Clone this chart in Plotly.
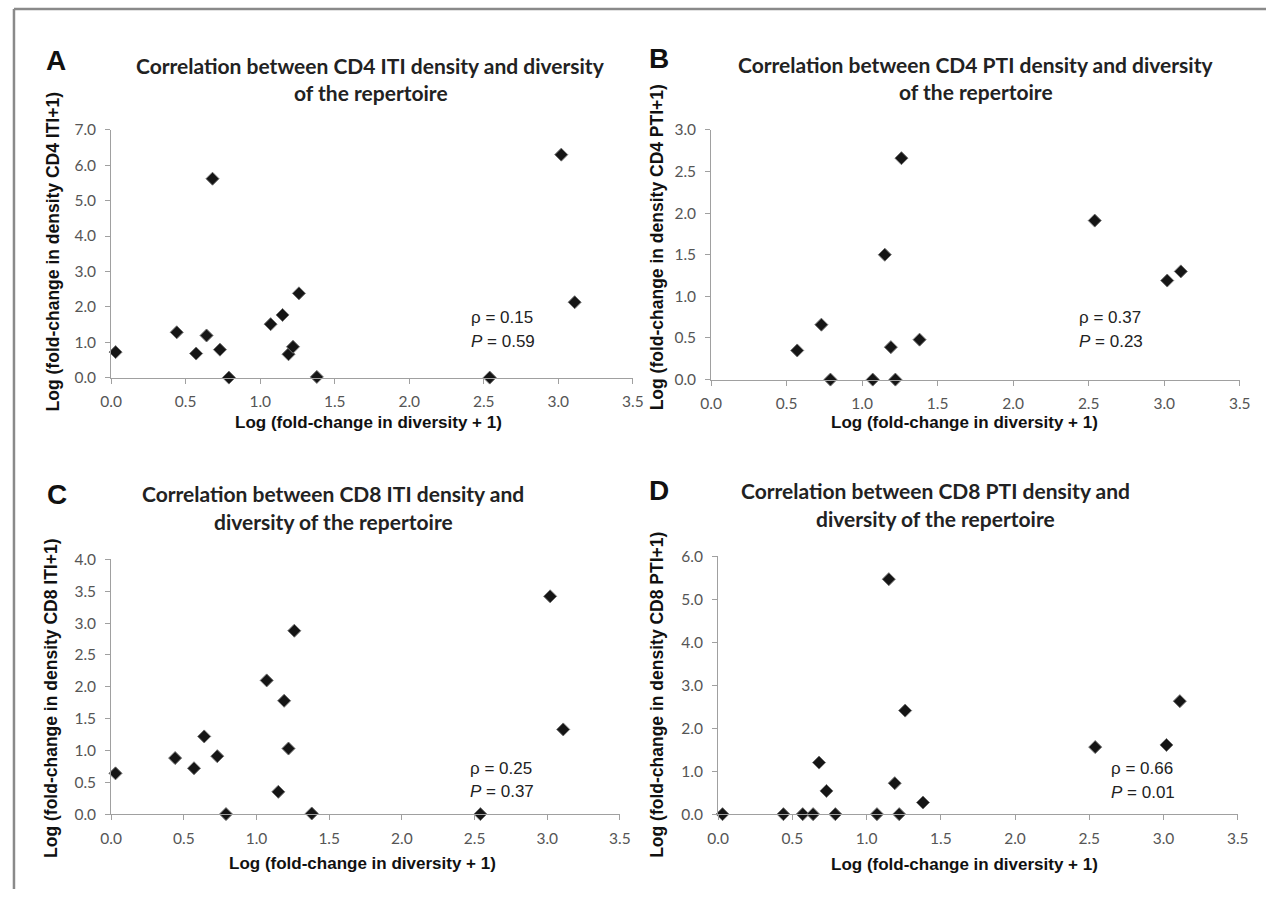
import plotly.graph_objects as go

W, H = 1277, 897

# shared x values: Log (fold-change in diversity + 1)
diversity = [0.03, 0.44, 0.57, 0.64, 0.68, 0.73, 0.79, 1.07, 1.15, 1.19, 1.22, 1.26, 1.38, 2.54, 3.02, 3.11]

# y values per panel (None = no point)
cd4_iti = [0.72, 1.28, 0.68, 1.19, 5.62, 0.79, 0.0, 1.51, 1.77, 0.66, 0.87, 2.38, 0.02, 0.0, 6.30, 2.13]
cd4_pti = [None, None, 0.35, None, None, 0.66, 0.0, 0.0, 1.50, 0.39, 0.0, 2.66, 0.48, 1.91, 1.19, 1.30]
cd8_iti = [0.64, 0.88, 0.72, 1.22, None, 0.91, 0.0, 2.10, 0.35, 1.78, 1.03, 2.88, 0.01, 0.0, 3.42, 1.33]
cd8_pti = [0.0, 0.0, 0.0, 0.0, 1.20, 0.54, 0.0, 0.0, 5.47, 0.72, 0.0, 2.41, 0.27, 1.56, 1.61, 2.63]

letters = ["A", "B", "C", "D"]
titles = [
    ["Correlation between CD4 ITI density and diversity", "of the repertoire"],
    ["Correlation between CD4 PTI density and diversity", "of the repertoire"],
    ["Correlation between CD8 ITI density and", "diversity of the repertoire"],
    ["Correlation between CD8 PTI density and", "diversity of the repertoire"],
]
y_titles = [
    "Log (fold-change in density CD4 ITI+1)",
    "Log (fold-change in density CD4 PTI+1)",
    "Log (fold-change in density CD8 ITI+1)",
    "Log (fold-change in density CD8 PTI+1)",
]
x_title = "Log (fold-change in diversity + 1)"
rhos = ["0.15", "0.37", "0.25", "0.66"]
pvals = ["0.59", "0.23", "0.37", "0.01"]
y_ranges = [[0, 7], [0, 3], [0, 4], [0, 6]]
y_dticks = [1.0, 0.5, 0.5, 1.0]
series = [cd4_iti, cd4_pti, cd8_iti, cd8_pti]

# layout geometry, measured on the reference picture (pixels)
boxes = [(104, 630, 128, 376), (709, 1242, 128, 378), (104, 617, 558, 813), (716, 1240, 555, 813)]
title_pos = [(366, 64, 91), (976, 63, 90), (328, 492, 520), (935, 489, 517)]
letter_pos = [(48, 59), (656, 57), (49, 493), (656, 489)]
ytitle_pos = [(45, 250), (654, 246), (44, 697), (655, 694)]
xtitle_pos = [(363, 421), (964, 421), (357, 862), (964, 863)]
stat_pos = [(465, 316, 340), (1078, 316, 340), (464, 767, 790), (1110, 767, 791)]
frame_xy = (6, 7)


# convert measured picture pixels to page pixels, then to paper fractions
def px(x):
    return ((x - 3) / 0.991) / W


def py(y):
    return 1 - ((y - 8) / 0.981) / H


fig = go.Figure()
annotations = []
shapes = []
for i in range(4):
    l, r, t, b = boxes[i]
    xa = "xaxis" if i == 0 else f"xaxis{i+1}"
    ya = "yaxis" if i == 0 else f"yaxis{i+1}"
    xref = "x" if i == 0 else f"x{i+1}"
    yref = "y" if i == 0 else f"y{i+1}"
    fig.add_trace(go.Scatter(
        x=diversity, y=series[i], mode="markers", xaxis=xref, yaxis=yref,
        marker=dict(symbol="diamond", size=10, color="#151515",
                    line=dict(color="#707070", width=1)),
        cliponaxis=False, showlegend=False, hoverinfo="x+y",
    ))
    axis_common = dict(showgrid=False, zeroline=False, showline=True,
                       linecolor="#a0a0a0", linewidth=1, ticks="outside",
                       ticklen=5, tickcolor="#a0a0a0", tickwidth=1,
                       tickfont=dict(family="Lato", size=15.5, color="#555555"),
                       tickformat=".1f")
    fig.layout[xa] = dict(domain=[px(l), px(r)], range=[0, 3.5], dtick=0.5, tick0=0,
                          anchor=yref, ticklabelstandoff=5, **axis_common)
    fig.layout[ya] = dict(domain=[py(b), py(t)], range=y_ranges[i], dtick=y_dticks[i], tick0=0,
                          anchor=xref, ticklabelstandoff=6, **axis_common)

    cx, y1, y2 = title_pos[i]
    for txt, yy in zip(titles[i], (y1, y2)):
        annotations.append(dict(text=txt, x=px(cx), y=py(yy), xref="paper", yref="paper",
                                showarrow=False, xanchor="center", yanchor="middle",
                                font=dict(family="Lato", size=21, color="#222222", weight="bold")))
    lx, ly = letter_pos[i]
    annotations.append(dict(text=letters[i], x=px(lx), y=py(ly), xref="paper", yref="paper",
                            showarrow=False, xanchor="center", yanchor="middle",
                            font=dict(family="Liberation Sans", size=28, color="#111111", weight="bold")))
    tx, ty = ytitle_pos[i]
    annotations.append(dict(text=y_titles[i], x=px(tx), y=py(ty), xref="paper", yref="paper",
                            showarrow=False, textangle=-90, xanchor="center", yanchor="middle",
                            font=dict(family="Liberation Sans", size=17.5, color="#111111", weight="bold")))
    xx, xy = xtitle_pos[i]
    annotations.append(dict(text=x_title, x=px(xx), y=py(xy), xref="paper", yref="paper",
                            showarrow=False, xanchor="center", yanchor="middle",
                            font=dict(family="Liberation Sans", size=17, color="#111111", weight="bold")))
    sx, sy1, sy2 = stat_pos[i]
    annotations.append(dict(text=f"\u03c1 = {rhos[i]}", x=px(sx), y=py(sy1), xref="paper", yref="paper",
                            showarrow=False, xanchor="left", yanchor="middle",
                            font=dict(family="Liberation Sans", size=17, color="#222222")))
    annotations.append(dict(text=f"<i>P</i> = {pvals[i]}", x=px(sx), y=py(sy2), xref="paper", yref="paper",
                            showarrow=False, xanchor="left", yanchor="middle",
                            font=dict(family="Liberation Sans", size=17, color="#222222")))

# outer frame (top and left)
fx, fy = frame_xy
shapes.append(dict(type="line", xref="paper", yref="paper", x0=px(fx), x1=1, y0=py(fy), y1=py(fy),
                   line=dict(color="#8a8a8a", width=2.5)))
shapes.append(dict(type="line", xref="paper", yref="paper", x0=px(fx), x1=px(fx), y0=py(fy), y1=0,
                   line=dict(color="#8a8a8a", width=2.5)))

fig.update_layout(width=W, height=H, margin=dict(l=0, r=0, t=0, b=0),
                  paper_bgcolor="white", plot_bgcolor="white",
                  annotations=annotations, shapes=shapes)

fig.write_html("out.html", config={"displayModeBar": False},
               post_script="document.body.style.margin='0';document.body.style.overflow='hidden';")
